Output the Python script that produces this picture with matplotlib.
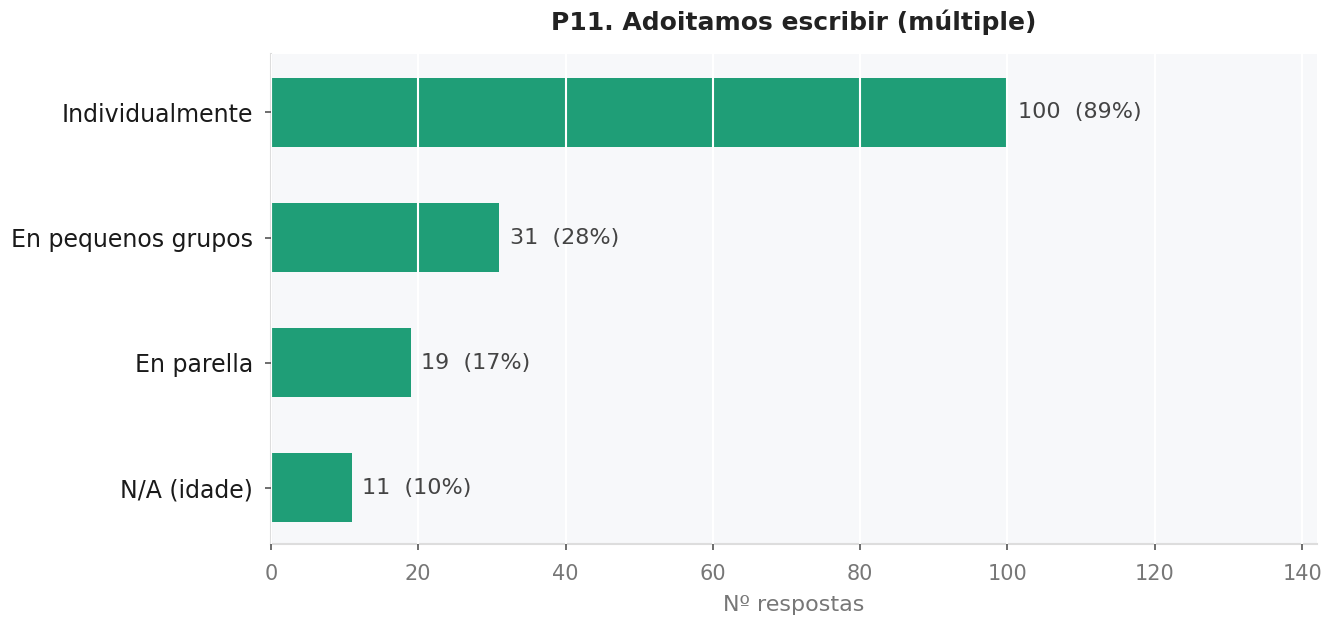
import matplotlib.pyplot as plt

plt.rcParams['font.family'] = ['DejaVu Sans']

categories = ['Individualmente', 'En pequenos grupos', 'En parella', 'N/A (idade)']
counts = [100, 31, 19, 11]
percents = [89, 28, 17, 10]

fig, ax = plt.subplots(figsize=(13.41, 6.24), dpi=100)
fig.subplots_adjust(left=0.202, right=0.982, top=0.914, bottom=0.128)

ax.set_facecolor('#f7f8fa')
ypos = list(range(len(categories)))
ax.barh(ypos, counts, height=0.55, color='#1f9e77', zorder=1)
for y, c, p in zip(ypos, counts, percents):
    ax.text(c + 1.4, y, '{}  ({}%)'.format(c, p), va='center', ha='left',
            fontsize=16, color='#444444')

ax.set_yticks(ypos)
ax.set_yticklabels(categories, fontsize=17, color='#1a1a1a')
ax.set_ylim(3.45, -0.47)
ax.set_xlim(0, 142)
ax.set_xticks(range(0, 141, 20))
ax.tick_params(axis='x', labelsize=15, labelcolor='#777777', pad=9.5)
ax.tick_params(axis='y', pad=8.5)
ax.set_xlabel('Nº respostas', fontsize=16, color='#777777', labelpad=8)
ax.set_title('P11. Adoitamos escribir (múltiple)', fontsize=18,
             fontweight='bold', color='#222222', pad=17)

ax.set_axisbelow(False)
ax.grid(axis='x', color='white', linewidth=1.5, zorder=2)
for s in ['top', 'right']:
    ax.spines[s].set_visible(False)
for s in ['left', 'bottom']:
    ax.spines[s].set_color('#dddddd')
    ax.spines[s].set_linewidth(1.5)
ax.tick_params(axis='both', color='#555555', length=4.5, width=1.2)

plt.savefig('out.png', dpi=100)
